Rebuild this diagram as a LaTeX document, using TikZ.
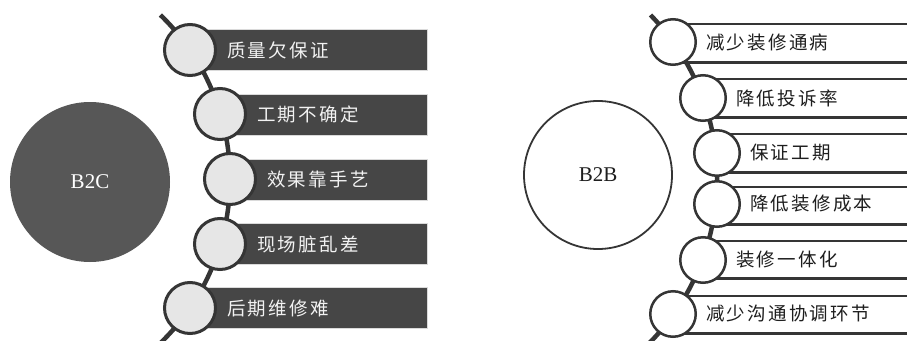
\documentclass[tikz,border=0pt]{standalone}
\usepackage{fontspec}
\setmainfont{Liberation Serif}
\newfontfamily\cjk[LetterSpace=12]{Noto Sans CJK SC}
\definecolor{bigfill}{HTML}{575757}
\definecolor{bardark}{HTML}{464646}
\definecolor{barhalo}{HTML}{DADADA}
\definecolor{dotfill}{HTML}{E6E6E6}
\definecolor{linedark}{HTML}{353535}
\definecolor{lighttext}{HTML}{F2F2F2}
\definecolor{darktext}{HTML}{1E1E1E}
\begin{document}
\begin{tikzpicture}[x=1pt,y=-1pt,
  bigdark/.style={circle, fill=bigfill, minimum size=160, inner sep=0, text=white, font=\fontsize{21}{21}\selectfont},
  bigwhite/.style={circle, draw=linedark, line width=1.8, fill=white, minimum size=148, inner sep=0, text=darktext, font=\fontsize{21}{21}\selectfont},
  ldot/.style={circle, fill=dotfill, draw=linedark, line width=3, minimum size=51, inner sep=0},
  rdot/.style={circle, fill=white, draw=linedark, line width=2.5, minimum size=45.5, inner sep=0},
  ltext/.style={anchor=west, inner sep=0, text=lighttext, font=\cjk\fontsize{18.5}{20}\selectfont},
  rtext/.style={anchor=west, inner sep=0, text=darktext, font=\cjk\fontsize{18.5}{20}\selectfont},
  spine/.style={draw=linedark, line width=4.5},
  darkbar/.style={fill=bardark, draw=barhalo, line width=1},
  topedge/.style={draw=linedark, line width=2},
  botedge/.style={draw=linedark, line width=3}]
\useasboundingbox (0,0) rectangle (907,340);
\fill[white] (0,0) rectangle (907,340);

% ---------- left (B2C) ----------
\node[bigdark] (b2c) at (90,182) {B2C};

\coordinate (lc1) at (190,50);
\coordinate (lc2) at (220,114);
\coordinate (lc3) at (230,179);
\coordinate (lc4) at (220,244);
\coordinate (lc5) at (190,308);

\foreach \i/\y in {1/50,2/115,3/180,4/243.5,5/307.5}{
  \path[darkbar] (lc\i |- 0,\y-20.5) rectangle (427,\y+20.5);
}

\coordinate (ltop) at (160.4,15);
\draw[spine] (ltop) arc[start angle=-46, end angle=47, radius=228];

\node[ldot] (l1) at (lc1) {};
\node[ldot] (l2) at (lc2) {};
\node[ldot] (l3) at (lc3) {};
\node[ldot] (l4) at (lc4) {};
\node[ldot] (l5) at (lc5) {};

\node[ltext] (lt1) at ([xshift=10]l1.east) {质量欠保证};
\node[ltext] (lt2) at ([xshift=10]l2.east) {工期不确定};
\node[ltext] (lt3) at ([xshift=10]l3.east) {效果靠手艺};
\node[ltext] (lt4) at ([xshift=10]l4.east) {现场脏乱差};
\node[ltext] (lt5) at ([xshift=10]l5.east) {后期维修难};

% ---------- right (B2B) ----------
\node[bigwhite] (b2b) at (598,175) {B2B};

\coordinate (rc1) at (673,42);
\coordinate (rc2) at (703,98);
\coordinate (rc3) at (717,153);
\coordinate (rc4) at (717,204);
\coordinate (rc5) at (703,260);
\coordinate (rc6) at (673,314);

\foreach \i/\y in {1/43,2/98,3/153,4/205.5,5/259.5,6/314.5}{
  \fill[white] (rc\i |- 0,\y-19) rectangle (907,\y+19);
  \draw[topedge] (rc\i |- 0,\y-19) -- (907,\y-19);
  \draw[botedge] (rc\i |- 0,\y+19) -- (907,\y+19);
}

\coordinate (rtop) at (650.5,15);
\draw[spine] (rtop) arc[start angle=-44.3, end angle=46, radius=234];

\node[rdot] (r1) at (rc1) {};
\node[rdot] (r2) at (rc2) {};
\node[rdot] (r3) at (rc3) {};
\node[rdot] (r4) at (rc4) {};
\node[rdot] (r5) at (rc5) {};
\node[rdot] (r6) at (rc6) {};

\node[rtext] (rt1) at ([xshift=9]r1.east) {减少装修通病};
\node[rtext] (rt2) at ([xshift=9]r2.east) {降低投诉率};
\node[rtext] (rt3) at ([xshift=9]r3.east) {保证工期};
\node[rtext] (rt4) at ([xshift=9]r4.east) {降低装修成本};
\node[rtext] (rt5) at ([xshift=9]r5.east) {装修一体化};
\node[rtext] (rt6) at ([xshift=9]r6.east) {减少沟通协调环节};
\end{tikzpicture}
\end{document}
